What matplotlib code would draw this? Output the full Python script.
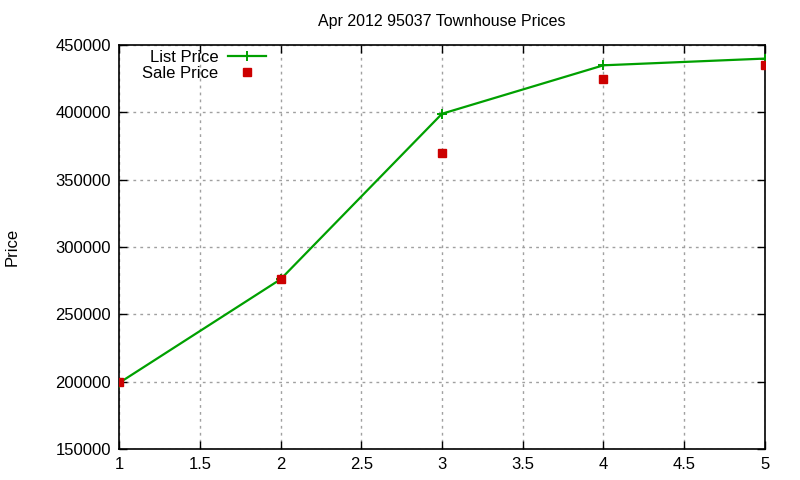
import matplotlib
matplotlib.use("Agg")
import matplotlib.pyplot as plt

plt.rcParams["font.family"] = ["Liberation Sans", "DejaVu Sans"]
plt.rcParams["font.size"] = 12

# data
quarters = [1, 2, 3, 4, 5]
list_price = [199000, 276000, 399000, 435000, 440000]
sale_price = [200000, 276500, 370000, 425000, 435000]

fig = plt.figure(figsize=(8, 4.8), dpi=100)
ax = fig.add_axes([0.149, 0.065, 0.807, 0.841])

ax.plot(quarters, list_price, color="#00a000", linewidth=1.6, marker="+",
        markersize=7, markeredgewidth=1.4, label="List Price", zorder=3)
ax.plot(quarters, sale_price, linestyle="none", marker="s", color="#cc0000",
        markersize=6, label="Sale Price", zorder=4)

ax.set_xlim(1, 5)
ax.set_ylim(150000, 450000)
ax.set_xticks([1, 1.5, 2, 2.5, 3, 3.5, 4, 4.5, 5])
ax.set_xticklabels(["1", "1.5", "2", "2.5", "3", "3.5", "4", "4.5", "5"])
ax.set_yticks(range(150000, 450001, 50000))
ax.set_yticklabels([str(v) for v in range(150000, 450001, 50000)])

ax.grid(True, linestyle=(0, (2, 3)), color="#a0a0a0", linewidth=1)
ax.tick_params(direction="in", top=True, right=True, length=6, width=1, pad=6)
for s in ax.spines.values():
    s.set_linewidth(1.2)

ax.set_title("Apr 2012 95037 Townhouse Prices", fontsize=11.5, pad=14)
ax.set_ylabel("Price")
ax.yaxis.set_label_coords(-0.155, 0.5)

leg = ax.legend(loc="upper left", bbox_to_anchor=(0.025, 1.005), frameon=False,
                markerfirst=False, handlelength=2.3, borderaxespad=0.0,
                labelspacing=0.05, handletextpad=0.6)
for t in leg.get_texts():
    t.set_ha("right")

fig.savefig("out.png", dpi=100)
